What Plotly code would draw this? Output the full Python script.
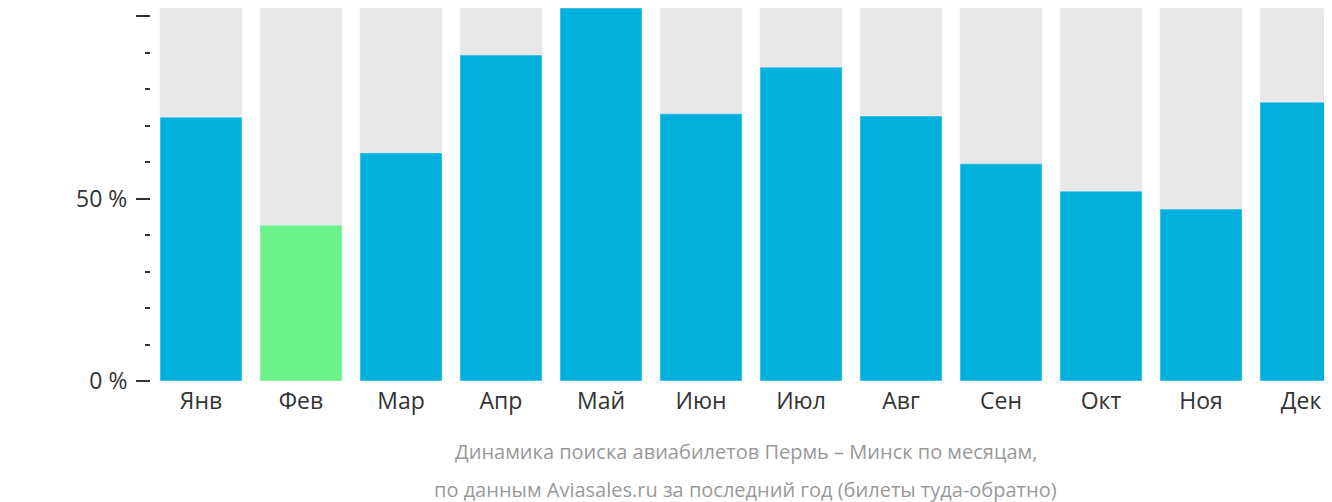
import plotly.graph_objects as go

months = ["Янв","Фев","Мар","Апр","Май","Июн","Июл","Авг","Сен","Окт","Ноя","Дек"]
values = [72.3, 42.7, 62.5, 89.3, 102.2, 73.2, 86.0, 72.6, 59.5, 52.0, 47.1, 76.4]
ymax = 102.2
colors = ["#6cf28a" if m == "Фев" else "#00b1dd" for m in months]

fig = go.Figure()
fig.add_bar(x=list(range(12)), y=[ymax]*12, marker_color="#e8e8e8", width=0.82, hoverinfo="skip")
fig.add_bar(x=list(range(12)), y=values, marker_color=colors, width=0.82)
fig.update_layout(
    barmode="overlay", showlegend=False, width=1332, height=502,
    margin=dict(l=143, r=0, t=0, b=129, pad=0), plot_bgcolor="white", paper_bgcolor="white",
    font=dict(family="Open Sans", size=23, color="#333"),
    xaxis=dict(range=[-0.5, 11.39], tickvals=list(range(12)), ticktext=months, automargin=False,
               showgrid=False, zeroline=False, ticks="", ticklabelstandoff=4),
    yaxis=dict(range=[0, ymax], tickvals=[0, 50, 100], ticktext=["0 %", "50 %", "100 %"],
               automargin=False, showgrid=False, zeroline=False, ticks="outside", ticklen=14, tickwidth=2,
               tickcolor="#333", ticklabelstandoff=4,
               minor=dict(tickvals=[10,20,30,40,60,70,80,90], ticks="outside", ticklen=5, tickwidth=2, tickcolor="#333")),
)
for y, t in [(-0.19, "Динамика поиска авиабилетов Пермь – Минск по месяцам,"),
             (-0.29, "по данным Aviasales.ru за последний год (билеты туда-обратно)")]:
    fig.add_annotation(text=t, xref="paper", yref="paper", x=0.5, y=y, showarrow=False,
                       yanchor="middle", font=dict(size=20, color="#999"))
fig.write_html("out.html")
